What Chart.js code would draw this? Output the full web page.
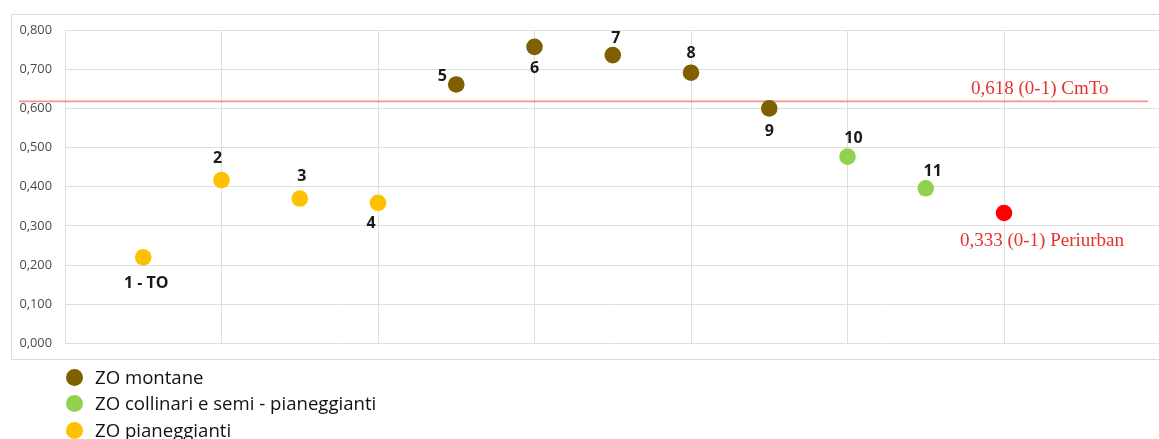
<!DOCTYPE html>
<html>
<head>
<meta charset="utf-8">
<script src="https://cdn.jsdelivr.net/npm/chart.js@4"></script>
<style>
  html, body { margin: 0; padding: 0; width: 1159px; height: 439px; overflow: hidden; background: #fff; }
  #frame { position: absolute; left: 11px; top: 14px; width: 1200px; height: 346px; border: 1px solid #dcdcdc; box-sizing: border-box; }
  #wrap { position: absolute; left: 0; top: 0; width: 1200px; height: 439px; }
  #legend { position: absolute; left: 0; top: 0; font-family: "Open Sans", sans-serif; font-size: 18.6px; color: #111; }
  .li { position: absolute; left: 66px; white-space: nowrap; height: 24px; line-height: 24px; }
  .dot { position: absolute; left: 0; top: 4px; width: 17px; height: 17px; border-radius: 50%; }
  .lt { position: absolute; left: 29px; top: 0; }
</style>
</head>
<body>
<div id="frame"></div>
<div id="wrap"><canvas id="c" width="1200" height="439"></canvas></div>
<div id="legend"></div>
<script>
// ---- data ----
const pointLabels = ['1 - TO', '2', '3', '4', '5', '6', '7', '8', '9', '10', '11', '0,333 (0-1) Periurban'];
const xValues = [1, 2, 3, 4, 5, 6, 7, 8, 9, 10, 11, 12];
const yValues = [0.220, 0.417, 0.370, 0.359, 0.661, 0.757, 0.736, 0.691, 0.600, 0.477, 0.396, 0.333];
const pointGroup = ['pian', 'pian', 'pian', 'pian', 'mont', 'mont', 'mont', 'mont', 'mont', 'coll', 'coll', 'peri'];
const groupKeys = ['mont', 'coll', 'pian', 'peri'];
const groupNames = ['ZO montane', 'ZO collinari e semi - pianeggianti', 'ZO pianeggianti', 'Periurban'];
const legendGroups = ['mont', 'coll', 'pian'];
const refValue = 0.618;
const refLabel = '0,618 (0-1) CmTo';
const yTicks = [0, 0.1, 0.2, 0.3, 0.4, 0.5, 0.6, 0.7, 0.8];

// ---- styles ----
const groupColors = { mont: '#7f6000', coll: '#92d050', pian: '#ffc000', peri: '#ff0000' };
const labelOffsets = [[3, 26], [-4, -22], [2, -22], [-7, 21], [-14, -8], [0, 22], [3, -17], [0, -19], [0, 23], [6, -18], [7, -17], [38, 28]];

const datasets = groupKeys.map((g, gi) => {
  const data = [];
  xValues.forEach((x, i) => { if (pointGroup[i] === g) data.push({ x: x, y: yValues[i], idx: i }); });
  return {
    label: groupNames[gi],
    data: data,
    backgroundColor: groupColors[g],
    borderColor: groupColors[g],
    borderWidth: 0,
    pointRadius: 8.3,
    pointHoverRadius: 8.3
  };
});

const serifFont = '19px "Liberation Serif", "Times New Roman", serif';

const refLinePlugin = {
  id: 'refLine',
  beforeDatasetsDraw(chart) {
    const { ctx, chartArea, scales } = chart;
    const y = scales.y.getPixelForValue(refValue);
    ctx.save();
    ctx.strokeStyle = '#f39393';
    ctx.lineWidth = 1.7;
    ctx.beginPath();
    ctx.moveTo(chartArea.left - 46, y);
    ctx.lineTo(chartArea.right - 12.5, y);
    ctx.stroke();
    ctx.fillStyle = '#e5312f';
    ctx.font = serifFont;
    ctx.textAlign = 'right';
    ctx.textBaseline = 'middle';
    ctx.fillText(refLabel, chartArea.right - 52, y - 12);
    ctx.restore();
  }
};

const pointLabelPlugin = {
  id: 'pointLabels',
  afterDatasetsDraw(chart) {
    const { ctx } = chart;
    ctx.save();
    ctx.textAlign = 'center';
    ctx.textBaseline = 'middle';
    chart.data.datasets.forEach((ds, di) => {
      const meta = chart.getDatasetMeta(di);
      meta.data.forEach((el, j) => {
        const i = ds.data[j].idx;
        const off = labelOffsets[i];
        if (pointGroup[i] === 'peri') {
          ctx.fillStyle = '#e5312f';
          ctx.font = serifFont;
        } else {
          ctx.fillStyle = '#1a1a1a';
          ctx.font = 'bold 16px "Open Sans", sans-serif';
        }
        ctx.fillText(pointLabels[i], el.x + off[0], el.y + off[1]);
      });
    });
    ctx.restore();
  }
};

new Chart(document.getElementById('c'), {
  type: 'scatter',
  data: { datasets: datasets },
  options: {
    responsive: false,
    animation: false,
    events: [],
    layout: { padding: { left: 0, right: 39.5, top: 30, bottom: 95.5 } },
    plugins: { legend: { display: false }, tooltip: { enabled: false } },
    scales: {
      x: {
        type: 'linear', min: 0, max: 14,
        ticks: { display: false, stepSize: 2 },
        grid: { color: '#dedede', lineWidth: 1, drawTicks: false },
        border: { display: false }
      },
      y: {
        min: 0, max: 0.8,
        afterBuildTicks(scale) { scale.ticks = yTicks.map(v => ({ value: v })); },
        afterFit(scale) { scale.width = 65; },
        ticks: {
          padding: 13,
          color: '#4a4a4a',
          font: { family: '"Open Sans", sans-serif', size: 12.8 },
          callback: (v) => Number(v).toFixed(3).replace('.', ',')
        },
        grid: { color: '#dedede', lineWidth: 1, drawTicks: false },
        border: { display: false }
      }
    }
  },
  plugins: [refLinePlugin, pointLabelPlugin]
});

// ---- legend ----
const legend = document.getElementById('legend');
const legendTops = [365, 391, 418];
legendGroups.forEach((g, k) => {
  const gi = groupKeys.indexOf(g);
  const row = document.createElement('div');
  row.className = 'li';
  row.style.top = legendTops[k] + 'px';
  row.innerHTML = '<span class="dot" style="background:' + groupColors[g] + '"></span><span class="lt">' + groupNames[gi] + '</span>';
  legend.appendChild(row);
});
</script>
</body>
</html>
